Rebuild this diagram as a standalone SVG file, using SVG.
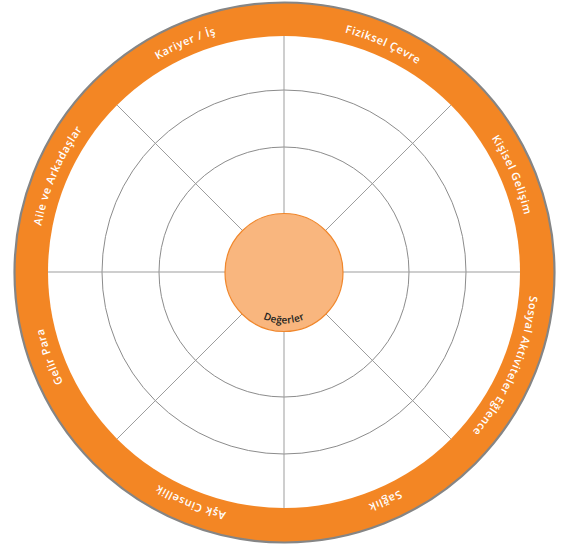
<svg xmlns="http://www.w3.org/2000/svg" xmlns:xlink="http://www.w3.org/1999/xlink" width="568" height="548" viewBox="0 0 568 548">
  <style>
    .ring{fill:#F38624;stroke:#858585;stroke-width:2.2}
    .face{fill:#FFFFFF}
    .grid{fill:none;stroke:#8c8c8c;stroke-width:1}
    .spoke{stroke:#9d9d9d;stroke-width:1}
    .core{fill:#F9B67E;stroke:#F0872C;stroke-width:1.2}
    .lbl{font-family:"Open Sans","Liberation Sans",sans-serif;font-size:11px;font-weight:600;fill:#FFFFFF;letter-spacing:0.6px}
    .core-lbl{font-family:"Open Sans","Liberation Sans",sans-serif;font-size:10px;font-weight:600;fill:#231F20;letter-spacing:0.2px}
  </style>
  <defs>
    <path id="labelArc" d="M 531 272 A 247 247 0 1 1 37 272 A 247 247 0 1 1 531 272"/>
    <path id="coreArc" d="M 233 272.5 A 51 51 0 0 0 335 272.5"/>
  </defs>
  <g id="wheel">
    <circle class="ring" cx="284.5" cy="272.5" r="270"/>
    <circle class="face" cx="284" cy="272" r="236"/>
    <circle class="grid" cx="284" cy="272" r="182"/>
    <circle class="grid" cx="284" cy="272" r="125"/>
  </g>
  <g id="connectors">
    <line class="spoke" x1="48" y1="272" x2="520" y2="272"/>
    <line class="spoke" x1="284" y1="36" x2="284" y2="508"/>
    <line class="spoke" x1="117.1" y1="105.1" x2="450.9" y2="438.9"/>
    <line class="spoke" x1="450.9" y1="105.1" x2="117.1" y2="438.9"/>
  </g>
  <g id="core">
    <circle class="core" cx="284" cy="272.5" r="59"/>
    <text class="core-lbl"><textPath xlink:href="#coreArc" href="#coreArc" startOffset="50%" text-anchor="middle">Değerler</textPath></text>
  </g>
  <g id="label-kariyer"><text class="lbl"><textPath href="#labelArc" startOffset="1063" text-anchor="middle">Kariyer / İş</textPath></text></g>
  <g id="label-fiziksel"><text class="lbl"><textPath href="#labelArc" startOffset="1265" text-anchor="middle">Fiziksel Çevre</textPath></text></g>
  <g id="label-kisisel"><text class="lbl"><textPath href="#labelArc" startOffset="1452" text-anchor="middle">Kişisel Gelişim</textPath></text></g>
  <g id="label-sosyal"><text class="lbl"><textPath href="#labelArc" startOffset="99" text-anchor="middle">Sosyal Aktiviteler Eğlence</textPath></text></g>
  <g id="label-saglik"><text class="lbl"><textPath href="#labelArc" startOffset="285" text-anchor="middle">Sağlık</textPath></text></g>
  <g id="label-ask"><text class="lbl"><textPath href="#labelArc" startOffset="483" text-anchor="middle">Aşk Cinsellik</textPath></text></g>
  <g id="label-gelir"><text class="lbl"><textPath href="#labelArc" startOffset="690" text-anchor="middle">Gelir Para</textPath></text></g>
  <g id="label-aile"><text class="lbl"><textPath href="#labelArc" startOffset="875" text-anchor="middle">Aile ve Arkadaşlar</textPath></text></g>
</svg>
